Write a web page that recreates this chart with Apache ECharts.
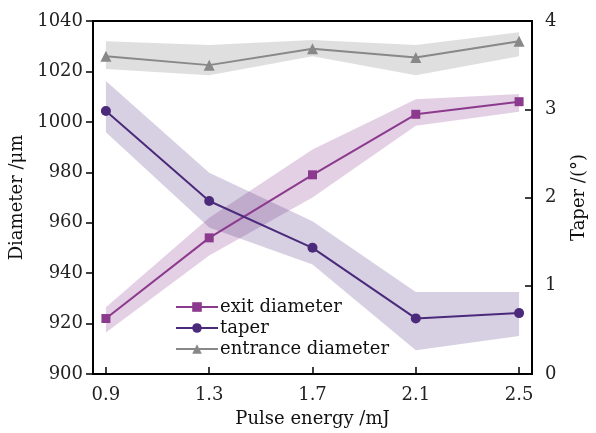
<!DOCTYPE html>
<html>
<head>
<meta charset="utf-8">
<script src="https://cdn.jsdelivr.net/npm/echarts@6/dist/echarts.min.js"></script>
<style>html,body{margin:0;padding:0;background:#fff;}#c{width:596px;height:433px;}</style>
</head>
<body>
<div id="c"></div>
<script>
const energies = [0.9, 1.3, 1.7, 2.1, 2.5];
const xTicks = [0.9, 1.3, 1.7, 2.1, 2.5];

const exitDiameter = [922, 954, 979, 1003, 1008];
const exitLow = [916.5, 947, 970, 998.5, 1004];
const exitHigh = [926.5, 962, 989, 1009, 1011];

const taper = [2.98, 1.96, 1.43, 0.63, 0.69];
const taperLow = [2.74, 1.66, 1.24, 0.27, 0.43];
const taperHigh = [3.32, 2.28, 1.73, 0.93, 0.93];

const entranceDiameter = [1026, 1022.5, 1029, 1025.5, 1032];
const entranceLow = [1021, 1018.5, 1026, 1018.5, 1026];
const entranceHigh = [1032, 1030.5, 1032.5, 1030.5, 1035.5];

const FONT = 'DejaVu Serif';
const FS = 18;
const cExit = '#8c3a8e', cTaper = '#4b2a7b', cEnt = '#888888';

function pairs(xs, ys) { return xs.map((x, i) => [x, ys[i]]); }

function bandSeries(lo, hi, color, yIdx) {
  return {
    type: 'custom',
    yAxisIndex: yIdx,
    silent: true,
    z: 1,
    data: energies.map((x, i) => [x, lo[i], hi[i]]),
    encode: { x: 0, y: [1, 2] },
    renderItem: function (params, api) {
      if (params.dataIndex !== 0) return null;
      const pts = [];
      for (let i = 0; i < energies.length; i++) pts.push(api.coord([energies[i], hi[i]]));
      for (let i = energies.length - 1; i >= 0; i--) pts.push(api.coord([energies[i], lo[i]]));
      return { type: 'polygon', shape: { points: pts }, style: { fill: color } };
    }
  };
}

const chart = echarts.init(document.getElementById('c'), null, { renderer: 'canvas' });
chart.setOption({
  animation: false,
  backgroundColor: '#fff',
  grid: { left: 93, right: 63, top: 21, bottom: 58, show: true, borderColor: '#000', borderWidth: 2, backgroundColor: 'transparent' },
  legend: {
    orient: 'vertical', left: 170, top: 293, itemGap: 3, itemWidth: 42, itemHeight: 12,
    data: ['exit diameter', 'taper', 'entrance diameter'],
    textStyle: { fontFamily: FONT, fontSize: FS, color: '#111', padding: [0, 0, 0, -3] }
  },
  xAxis: {
    type: 'value', min: 0.85, max: 2.55,
    name: 'Pulse energy /mJ', nameLocation: 'middle', nameGap: 36,
    nameTextStyle: { fontFamily: FONT, fontSize: FS, color: '#111' },
    axisLine: { lineStyle: { color: '#000', width: 2 } },
    axisTick: { inside: true, length: 7, customValues: xTicks, lineStyle: { color: '#000', width: 1.5 } },
    axisLabel: { customValues: xTicks, margin: 12, fontFamily: FONT, fontSize: FS, color: '#222', formatter: v => v.toFixed(1) },
    splitLine: { show: false }
  },
  yAxis: [{
    type: 'value', min: 900, max: 1040, interval: 20, position: 'left',
    name: 'Diameter /μm', nameLocation: 'middle', nameGap: 60,
    nameTextStyle: { fontFamily: FONT, fontSize: FS, color: '#111' },
    axisLine: { show: true, lineStyle: { color: '#000', width: 2 } },
    axisTick: { show: true, inside: false, length: 7, lineStyle: { color: '#000', width: 1.5 } },
    axisLabel: { margin: 10, fontFamily: FONT, fontSize: FS, color: '#222', formatter: v => String(v) },
    splitLine: { show: false }
  }, {
    type: 'value', min: 0, max: 4, interval: 1, position: 'right',
    name: 'Taper /(°)', nameLocation: 'middle', nameGap: 38,
    nameTextStyle: { fontFamily: FONT, fontSize: FS, color: '#111' },
    axisLine: { show: true, lineStyle: { color: '#000', width: 2 } },
    axisTick: { show: true, inside: true, length: 7, lineStyle: { color: '#000', width: 1.5 } },
    axisLabel: { margin: 13, fontFamily: FONT, fontSize: FS, color: '#222', formatter: v => String(v) },
    splitLine: { show: false }
  }],
  series: [
    bandSeries(entranceLow, entranceHigh, 'rgba(136,136,136,0.27)', 0),
    bandSeries(exitLow, exitHigh, 'rgba(140,58,142,0.24)', 0),
    bandSeries(taperLow, taperHigh, 'rgba(75,42,123,0.22)', 1),
    {
      name: 'exit diameter', type: 'line', yAxisIndex: 0, z: 3,
      data: pairs(energies, exitDiameter),
      symbol: 'rect', symbolSize: 9,
      lineStyle: { color: cExit, width: 2 }, itemStyle: { color: cExit }
    },
    {
      name: 'taper', type: 'line', yAxisIndex: 1, z: 3,
      data: pairs(energies, taper),
      symbol: 'circle', symbolSize: 10,
      lineStyle: { color: cTaper, width: 2 }, itemStyle: { color: cTaper }
    },
    {
      name: 'entrance diameter', type: 'line', yAxisIndex: 0, z: 3,
      data: pairs(energies, entranceDiameter),
      symbol: 'triangle', symbolSize: 11,
      lineStyle: { color: cEnt, width: 2 }, itemStyle: { color: cEnt }
    }
  ]
});
</script>
</body>
</html>
